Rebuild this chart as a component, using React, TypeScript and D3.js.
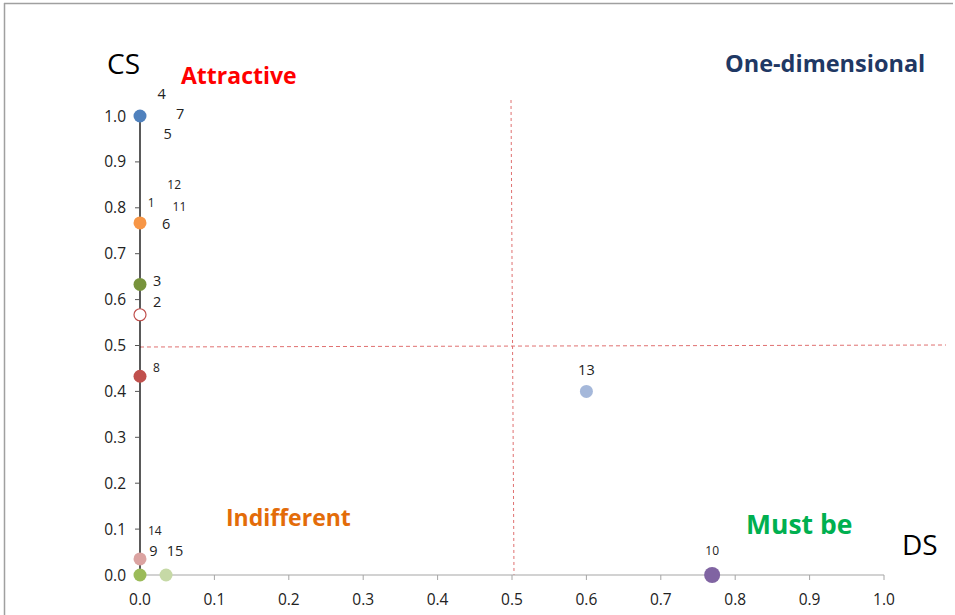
import React from "react";
import * as d3 from "d3";

const W = 955;
const H = 615;

const pointIds = ["4/7/5", "1/6/11/12", "3", "2", "8", "13", "10", "14", "9", "15"];
const dsValues = [0, 0, 0, 0, 0, 0.6, 0.769, 0, 0, 0.035];
const csValues = [1.0, 0.767, 0.633, 0.567, 0.433, 0.4, 0, 0.035, 0, 0];
const pointColors = ["#4F81BD", "#F79646", "#77933C", "none", "#C0504D", "#A5B8DA", "#8064A2", "#DBA3A1", "#9BBB59", "#C6D9A6"];
const pointStrokes = ["none", "none", "none", "#C0504D", "none", "none", "none", "none", "none", "none"];
const pointRadius = [6.5, 6.5, 6.5, 6, 6.5, 6.5, 8, 6.5, 6.5, 6.5];

const labelTexts = ["4", "7", "5", "12", "1", "11", "6", "3", "2", "8", "13", "14", "9", "15", "10"];
const labelDs = [0.029, 0.054, 0.037, 0.046, 0.015, 0.053, 0.035, 0.023, 0.023, 0.022, 0.6, 0.02, 0.018, 0.047, 0.769];
const labelCs = [1.045, 1.002, 0.958, 0.848, 0.808, 0.8, 0.763, 0.637, 0.593, 0.45, 0.445, 0.095, 0.05, 0.05, 0.05];
const labelSmall = [false, false, false, true, true, true, false, false, false, true, false, true, false, false, true];

const xTicks = [0, 0.1, 0.2, 0.3, 0.4, 0.5, 0.6, 0.7, 0.8, 0.9, 1.0];
const yTicks = [0, 0.1, 0.2, 0.3, 0.4, 0.5, 0.6, 0.7, 0.8, 0.9, 1.0];

const quadrantLabels = ["Attractive", "One-dimensional", "Indifferent", "Must be"];
const quadrantColors = ["#FF0000", "#1F3864", "#E36C09", "#00B050"];

const FONT = "'Open Sans', 'Noto Sans', sans-serif";

export default function App() {
  const x = d3.scaleLinear().domain([0, 1]).range([140, 884]);
  const y = d3.scaleLinear().domain([0, 1]).range([575, 116]);
  const fmt = d3.format(".1f");

  return (
    <svg width={W} height={H} style={{ position: "absolute", left: 0, top: 0, background: "#fff" }} fontFamily={FONT}>
      <rect x={0} y={0} width={W} height={H} fill="#fff" />
      {/* frame */}
      <line x1={4} y1={3.5} x2={953} y2={3.5} stroke="#A0A0A0" strokeWidth={1.5} />
      <line x1={4.5} y1={3} x2={4.5} y2={615} stroke="#A0A0A0" strokeWidth={1.5} />

      {/* dashed quadrant lines */}
      <line x1={x(0.5) - 1} y1={100} x2={x(0.5) + 2} y2={y(0)} stroke="#E07070" strokeWidth={1} strokeDasharray="3,3" />
      <line x1={x(0)} y1={y(0.5) + 1.5} x2={946} y2={y(0.5) - 0.5} stroke="#E07070" strokeWidth={1} strokeDasharray="4,3" />

      {/* x axis */}
      <line x1={x(0)} y1={y(0)} x2={x(1)} y2={y(0)} stroke="#A6A6A6" strokeWidth={1.2} />
      {xTicks.map((t) => (
        <g key={"xt" + t}>
          <line x1={x(t)} y1={y(0)} x2={x(t)} y2={y(0) + 5} stroke="#A6A6A6" strokeWidth={1} />
          <text x={x(t)} y={y(0) + 30} textAnchor="middle" fontSize={15.5} fill="#222">{fmt(t)}</text>
        </g>
      ))}

      {/* y axis */}
      <line x1={x(0)} y1={y(0)} x2={x(0)} y2={y(1)} stroke="#000" strokeWidth={1.3} />
      {yTicks.map((t) => (
        <g key={"yt" + t}>
          <line x1={x(0) - 5} y1={y(t)} x2={x(0)} y2={y(t)} stroke="#555" strokeWidth={1} />
          <text x={x(0) - 14} y={y(t) + 5.5} textAnchor="end" fontSize={15.5} fill="#222">{fmt(t)}</text>
        </g>
      ))}

      {/* axis titles */}
      <text x={107} y={74} fontSize={28} fill="#000">CS</text>
      <text x={902} y={555} fontSize={28} fill="#000">DS</text>

      {/* quadrant labels */}
      <text x={181} y={84} fontSize={23} fontWeight="bold" fill={quadrantColors[0]}>{quadrantLabels[0]}</text>
      <text x={725} y={72} fontSize={23.5} fontWeight="bold" fill={quadrantColors[1]}>{quadrantLabels[1]}</text>
      <text x={226} y={526} fontSize={23} fontWeight="bold" fill={quadrantColors[2]}>{quadrantLabels[2]}</text>
      <text x={746} y={534} fontSize={26.5} fontWeight="bold" fill={quadrantColors[3]}>{quadrantLabels[3]}</text>

      {/* points */}
      {pointIds.map((id, i) => (
        <circle
          key={id}
          cx={x(dsValues[i])}
          cy={y(csValues[i])}
          r={pointRadius[i]}
          fill={pointColors[i] === "none" ? "#fff" : pointColors[i]}
          stroke={pointStrokes[i]}
          strokeWidth={pointStrokes[i] === "none" ? 0 : 1.2}
        />
      ))}

      {/* data labels */}
      {labelTexts.map((t, i) => (
        <text
          key={"lb" + t}
          x={x(labelDs[i])}
          y={y(labelCs[i])}
          textAnchor="middle"
          dominantBaseline="middle"
          fontSize={labelSmall[i] ? 12 : 14.5}
          fill="#222"
        >
          {t}
        </text>
      ))}
    </svg>
  );
}
